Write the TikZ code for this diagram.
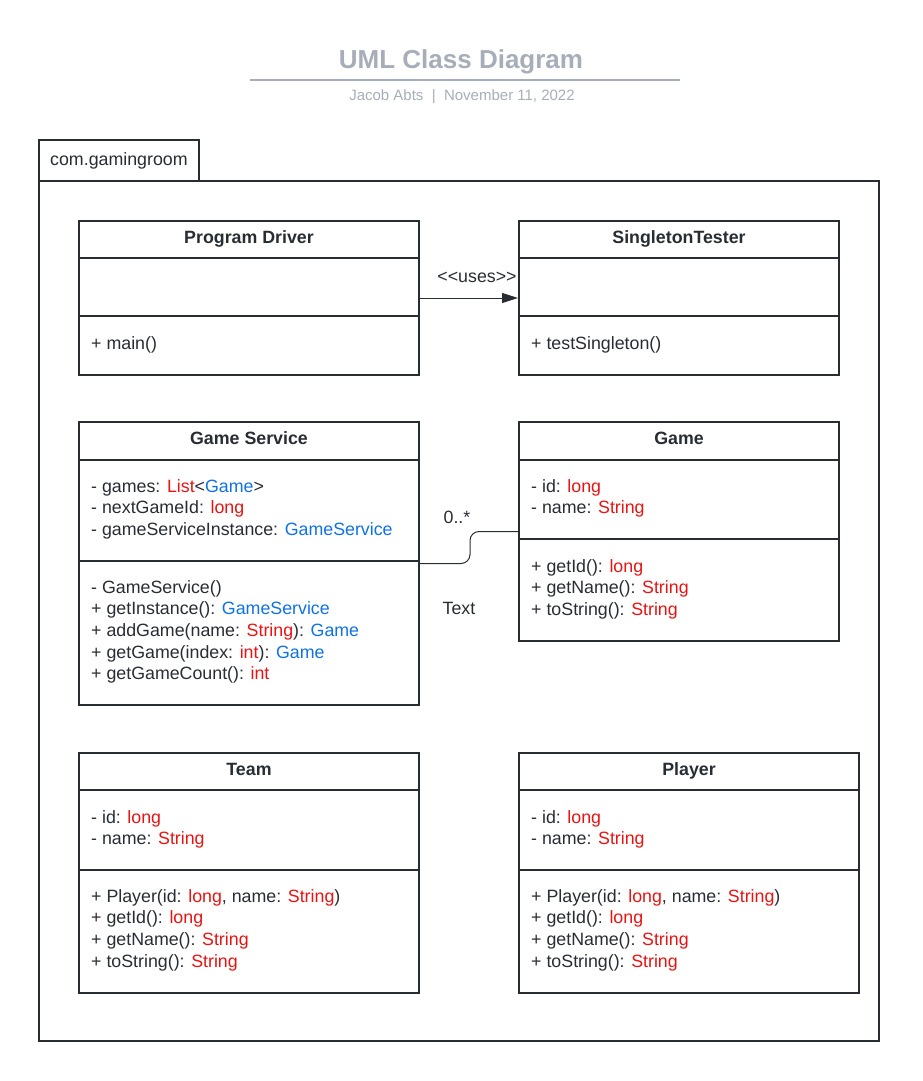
\documentclass[tikz,border=0pt]{standalone}
\usepackage{fontspec}
\setmainfont{Liberation Sans}
\usetikzlibrary{arrows.meta}
\definecolor{ink}{HTML}{282C33}
\definecolor{kwred}{HTML}{E81313}
\definecolor{tyblue}{HTML}{1071E5}
\definecolor{titlegray}{HTML}{A7ADB9}
\newcommand{\kwd}[1]{\textcolor{kwred}{#1}}
\newcommand{\typ}[1]{\textcolor{tyblue}{#1}}
\newcommand{\memfont}{\fontsize{17.8}{21.7}\selectfont}

\begin{document}
\begin{tikzpicture}[x=1pt,y=-1pt,
    box/.style={draw=ink,line width=2pt,inner sep=0pt},
    classname/.style={anchor=base,inner sep=0pt,font=\memfont\bfseries,text=ink},
    members/.style={anchor=base west,align=left,inner sep=0pt,font=\memfont,text=ink},
    lbl/.style={anchor=base,inner sep=0pt,font=\memfont,text=ink}]
  \useasboundingbox (0,0) rectangle (922,1081);
  % title
  \node[anchor=base,font=\fontsize{26}{30}\selectfont\bfseries,text=titlegray] (title) at (461,68.5) {UML Class Diagram};
  \draw[titlegray,line width=2pt] (250,80) -- (680,80);
  \node[anchor=base,font=\fontsize{15}{18}\selectfont,text=titlegray] (sub) at (462,100.5) {Jacob Abts\ \ |\ \ November 11, 2022};
  % package
  \draw[ink,line width=2pt] (39,181) rectangle (879,1041);
  \node[box,minimum width=160pt,minimum height=41pt] (pkgtab) at (119,160.5) {};
  \node[members] (pkgname) at (50,165) {com.gamingroom};
  % class boxes
  \node[box,minimum width=340pt,minimum height=154pt] (pd) at (249,298) {};
  \node[box,minimum width=320pt,minimum height=154pt] (st) at (679,298) {};
  \node[box,minimum width=340pt,minimum height=283pt] (gs) at (249,563.5) {};
  \node[box,minimum width=320pt,minimum height=219pt] (game) at (679,531.5) {};
  \node[box,minimum width=340pt,minimum height=240pt] (team) at (249,873) {};
  \node[box,minimum width=340pt,minimum height=240pt] (player) at (689,873) {};
  % compartments
  \foreach \c/\y in {pd/258,pd/316,st/258,st/316,gs/460,gs/561,game/460,game/539,
                     team/790,team/870,player/790,player/870}
    \draw[ink,line width=2pt] (\c.west |- 0,\y) -- (\c.east |- 0,\y);
  % member lists sit on the baseline of their last line
  % Program Driver
  \node[classname] (pdname) at (249,243.5) {Program Driver};
  \node[members] (pdops) at (91,349) {+ main()};
  % SingletonTester
  \node[classname] (stname) at (679,243.5) {SingletonTester};
  \node[members] (stops) at (531,349) {+ testSingleton()};
  % Game Service
  \node[classname] (gsname) at (249,444.5) {Game Service};
  \node[members] (gsattr) at (91,535.4) {- games: \kwd{List}<\typ{Game}>\\
    - nextGameId: \kwd{long}\\
    - gameServiceInstance: \typ{GameService}};
  \node[members] (gsops) at (91,679.8) {- GameService()\\
    + getInstance(): \typ{GameService}\\
    + addGame(name: \kwd{String}): \typ{Game}\\
    + getGame(index: \kwd{int}): \typ{Game}\\
    + getGameCount(): \kwd{int}};
  % Game
  \node[classname] (gamename) at (679,444.5) {Game};
  \node[members] (gameattr) at (531,513.7) {- id: \kwd{long}\\- name: \kwd{String}};
  \node[members] (gameops) at (531,615.4) {+ getId(): \kwd{long}\\
    + getName(): \kwd{String}\\
    + toString(): \kwd{String}};
  % Team
  \node[classname] (teamname) at (249,775.5) {Team};
  \node[members] (teamattr) at (91,844.7) {- id: \kwd{long}\\- name: \kwd{String}};
  \node[members] (teamops) at (91,967.1) {+ Player(id: \kwd{long}, name: \kwd{String})\\
    + getId(): \kwd{long}\\
    + getName(): \kwd{String}\\
    + toString(): \kwd{String}};
  % Player
  \node[classname] (playername) at (689,775.5) {Player};
  \node[members] (playerattr) at (531,844.7) {- id: \kwd{long}\\- name: \kwd{String}};
  \node[members] (playerops) at (531,967.1) {+ Player(id: \kwd{long}, name: \kwd{String})\\
    + getId(): \kwd{long}\\
    + getName(): \kwd{String}\\
    + toString(): \kwd{String}};
  % relations
  \draw[ink,line width=1pt,-{Triangle[length=16pt,width=10pt]}] (pd.east) -- (st.west);
  \node[lbl] (uses) at (477,282) {<\kern0pt<uses>\kern0pt>};
  \draw[ink,line width=1pt,rounded corners=9pt] (gs.east) -- ++(50,0) |- (game.west);
  \node[lbl] (mult) at (457,523) {0..*};
  \node[lbl] (assoc) at (459,614) {Text};
\end{tikzpicture}
\end{document}
